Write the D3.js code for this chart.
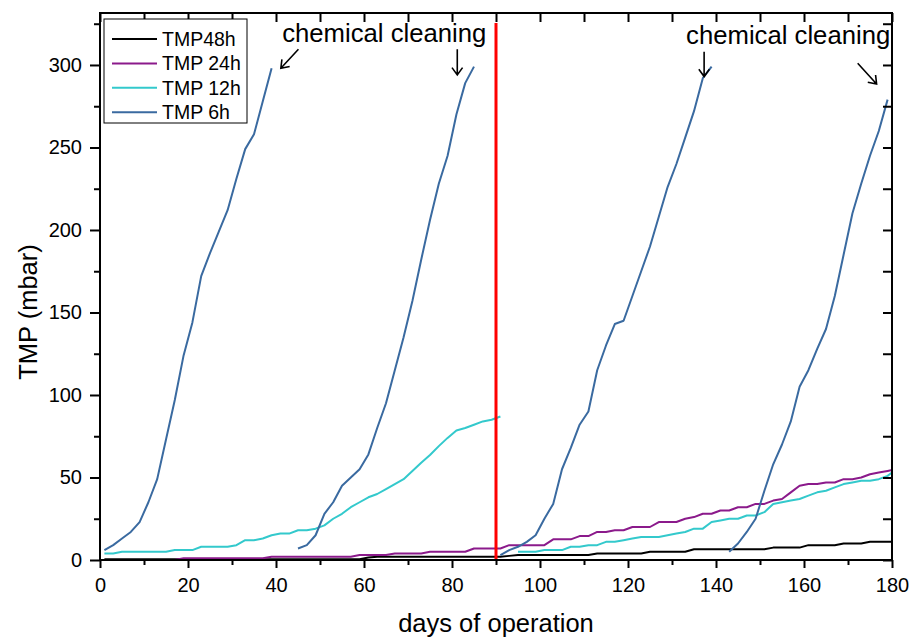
<!DOCTYPE html>
<html>
<head>
<meta charset="utf-8">
<script src="https://cdn.jsdelivr.net/npm/d3@7"></script>
<style>
  body { margin: 0; background: #fff; }
  svg { display: block; }
  text { font-family: "Liberation Sans", Arial, sans-serif; fill: #000; }
</style>
</head>
<body>
<svg id="chart" width="911" height="639"></svg>
<script>
// ---- data: transmembrane pressure (mbar) vs. days of operation ----
const seriesNames = ["TMP48h", "TMP 24h", "TMP 12h", "TMP 6h"];
const seriesColors = ["#000000", "#8b1a8b", "#33c9cc", "#3a6aa0"];

const daysLong = [1,3,5,7,9,11,13,15,17,19,21,23,25,27,29,31,33,35,37,39,41,43,45,47,49,51,53,55,57,59,
  61,63,65,67,69,71,73,75,77,79,81,83,85,87,89,91,93,95,97,99,101,103,105,107,109,111,113,115,117,119,
  121,123,125,127,129,131,133,135,137,139,141,143,145,147,149,151,153,155,157,159,161,163,165,167,169,171,
  173,175,177,179,180];

const tmp48h = [0.5,0.5,0.5,0.5,0.5,0.5,0.5,0.5,0.5,0.5,0.5,0.5,0.5,0.5,0.5,0.5,0.5,0.5,0.5,0.5,
  0.5,0.5,0.5,0.5,0.5,0.5,0.5,0.5,0.5,0.5,1.5,2,2,2,2,2,2,2,2,2,2,2,2,2,2,2,2.5,3,3,3,3,3,3,3,3,3,
  4,4,4,4,4,4,5,5,5,5,5,6.5,6.5,6.5,6.5,6.5,6.5,6.5,6.5,6.5,7.5,7.5,7.5,7.5,9,9,9,9,10,10,10,11,11,11,11];

const tmp24h = [0,0,0,0,0,0,0,0,0,1,1,1,1,1,1,1,1,1,1,2,2,2,2,2,2,2,2,2,2,3,3,3,3,4,4,4,4,5,5,5,5,5,
  7,7,7,7,9,9,9,9,9,12.5,12.5,12.5,14.5,14.5,17,17,18,18,20,20,20,23,23,23,25,26,28,28,30,30,32,32,34,34,
  36,37,41,45,46,46,47,47,49,49,50,52,53,54,54.5];

const days12hA = [1,3,5,7,9,11,13,15,17,19,21,23,25,27,29,31,33,35,37,39,41,43,45,47,49,51,53,55,57,59,
  61,63,65,67,69,71,73,75,77,79,81,83,85,87,89,91];
const tmp12hA = [4,4,5,5,5,5,5,5,6,6,6,8,8,8,8,9,12,12,13,15,16,16,18,18,19,21,25,28,32,35,
  38,40,43,46,49,54,59,63.6,69,74,78.5,80,82,84,85,87];
const days12hB = [95,97,99,101,103,105,107,109,111,113,115,117,119,121,123,125,127,129,131,133,135,137,
  139,141,143,145,147,149,151,153,155,157,159,161,163,165,167,169,171,173,175,177,179,180];
const tmp12hB = [5,5,5,6,6,6,8,8,9,9,11,11,12,13,14,14,14,15,16,17,19,19,23,24,25,25,27,27,29,34,35,36,
  37,39,41,42,44,46,47,48,48,49,51,53];

// TMP 6h: four filtration cycles, each ended by a chemical cleaning
const days6hA = [1,3,5,7,9,11,13,15,17,19,21,23,25,27,29,31,33,35,37,39];
const tmp6hA = [6,9,13,17,23,35,49,73,97,124,144,172,186,199,212,231,249,258,278,298];
const days6hB = [45,47,49,51,53,55,57,59,61,63,65,67,69,71,73,75,77,79,81,83,85];
const tmp6hB = [7,9,15,28,35,45,50,55,64,80,95,115,135,157,182,206,228,245,270,289,299];
const days6hC = [91,93,95,97,99,101,103,105,107,109,111,113,115,117,119,121,123,125,127,129,131,133,135,137,139];
const tmp6hC = [3,6,8,11,15,25,34,55,68,82,90,115,130,143,145,160,175,190,208,226,240,256,272,292,299];
const days6hD = [143,145,147,149,151,153,155,157,159,161,163,165,167,169,171,173,175,177,179];
const tmp6hD = [5,10,17,25,42,58,70,84,105,115,128,140,160,185,210,228,245,260,279];

// axis ticks
const xMajorTicks = [0,20,40,60,80,100,120,140,160,180];
const xMinorTicks = [10,30,50,70,90,110,130,150,170];
const yMajorTicks = [0,50,100,150,200,250,300];
const yMinorTicks = [25,75,125,175,225,275,325];

// annotations: chemical cleaning events (data coordinates)
const cleaningDay = 90;
const labelText = "chemical cleaning";
const labels = [{day: 41.4, val: 314}, {day: 133.2, val: 312.7}];
const arrows = [
  {from: [45.1, 309.5], to: [41.1, 298]},
  {from: [81.2, 309.5], to: [81.2, 294]},
  {from: [137.3, 308], to: [137.3, 293]},
  {from: [172.2, 301], to: [176.5, 288.5]}
];

// ---- layout ----
const svg = d3.select("#chart");
const W = 911, H = 639;
const m = {left: 100, right: 19, top: 13, bottom: 79};
const x = d3.scaleLinear().domain([0, 180]).range([m.left, W - m.right]);
const y = d3.scaleLinear().domain([0, 331.5]).range([H - m.bottom, m.top]);

const line = d3.line().x(d => x(d[0])).y(d => y(d[1]));
const zip = (a, b) => a.map((v, i) => [v, b[i]]);

const plot = svg.append("g");

function drawSeries(days, vals, color) {
  plot.append("path")
    .datum(zip(days, vals))
    .attr("d", line)
    .attr("fill", "none")
    .attr("stroke", color)
    .attr("stroke-width", 2)
    .attr("stroke-linejoin", "round");
}

drawSeries(daysLong, tmp48h, seriesColors[0]);
drawSeries(daysLong, tmp24h, seriesColors[1]);
drawSeries(days12hA, tmp12hA, seriesColors[2]);
drawSeries(days12hB, tmp12hB, seriesColors[2]);
drawSeries(days6hA, tmp6hA, seriesColors[3]);
drawSeries(days6hB, tmp6hB, seriesColors[3]);
drawSeries(days6hC, tmp6hC, seriesColors[3]);
drawSeries(days6hD, tmp6hD, seriesColors[3]);

// cleaning marker line
plot.append("line")
  .attr("x1", x(cleaningDay)).attr("x2", x(cleaningDay))
  .attr("y1", y(325.5)).attr("y2", y(0))
  .attr("stroke", "#ff0000").attr("stroke-width", 3);

// ---- axes ----
function styleAxis(g) {
  g.select(".domain").remove();
  g.selectAll(".tick line").attr("stroke", "#000").attr("stroke-width", 2);
  g.selectAll(".tick text").attr("font-size", 20).attr("fill", "#000")
    .attr("font-family", "'Liberation Sans', Arial, sans-serif");
}

const bottom = H - m.bottom;
svg.append("g").attr("transform", `translate(0,${bottom})`)
  .call(d3.axisBottom(x).tickValues(xMajorTicks).tickSize(8).tickPadding(10).tickFormat(d3.format("d")))
  .call(styleAxis);
svg.append("g").attr("transform", `translate(0,${bottom})`)
  .call(d3.axisBottom(x).tickValues(xMinorTicks).tickSize(5).tickFormat(""))
  .call(styleAxis);
svg.append("g").attr("transform", `translate(${m.left},0)`)
  .call(d3.axisLeft(y).tickValues(yMajorTicks).tickSize(10).tickPadding(8).tickFormat(d3.format("d")))
  .call(styleAxis);
svg.append("g").attr("transform", `translate(${m.left},0)`)
  .call(d3.axisLeft(y).tickValues(yMinorTicks).tickSize(6).tickFormat(""))
  .call(styleAxis);
// mirrored inward ticks on top and right
svg.append("g").attr("transform", `translate(0,${m.top})`)
  .call(d3.axisTop(x).tickValues(xMajorTicks.concat(xMinorTicks)).tickSize(-9).tickFormat(""))
  .call(styleAxis);
svg.append("g").attr("transform", `translate(${W - m.right},0)`)
  .call(d3.axisRight(y).tickValues(yMajorTicks.concat(yMinorTicks)).tickSize(-9).tickFormat(""))
  .call(styleAxis);

// frame
svg.append("rect")
  .attr("x", m.left).attr("y", m.top)
  .attr("width", W - m.right - m.left).attr("height", bottom - m.top)
  .attr("fill", "none").attr("stroke", "#000").attr("stroke-width", 2);

// axis titles
svg.append("text")
  .attr("x", (m.left + W - m.right) / 2).attr("y", 632)
  .attr("text-anchor", "middle").attr("font-size", 25.5)
  .text("days of operation");
svg.append("text")
  .attr("transform", `translate(37,312) rotate(-90)`)
  .attr("text-anchor", "middle").attr("font-size", 25.5)
  .text("TMP (mbar)");

// ---- annotations ----
labels.forEach(l => {
  svg.append("text")
    .attr("x", x(l.day)).attr("y", y(l.val))
    .attr("font-size", 25.7)
    .text(labelText);
});
arrows.forEach(a => {
  const x1 = x(a.from[0]), y1 = y(a.from[1]);
  const x2 = x(a.to[0]), y2 = y(a.to[1]);
  const ang = Math.atan2(y2 - y1, x2 - x1);
  const head = 9, spread = Math.PI / 5;
  const p1 = [x2 - head * Math.cos(ang - spread), y2 - head * Math.sin(ang - spread)];
  const p2 = [x2 - head * Math.cos(ang + spread), y2 - head * Math.sin(ang + spread)];
  svg.append("path")
    .attr("d", `M${x1},${y1}L${x2},${y2}M${p1[0]},${p1[1]}L${x2},${y2}L${p2[0]},${p2[1]}`)
    .attr("fill", "none").attr("stroke", "#000").attr("stroke-width", 1.6);
});

// ---- legend ----
const legend = svg.append("g");
legend.append("rect")
  .attr("x", 104).attr("y", 19).attr("width", 143).attr("height", 104)
  .attr("fill", "#fff").attr("stroke", "#000").attr("stroke-width", 1);
seriesNames.forEach((name, i) => {
  const cy = 39 + i * 24.4;
  legend.append("line")
    .attr("x1", 112).attr("x2", 157).attr("y1", cy).attr("y2", cy)
    .attr("stroke", seriesColors[i]).attr("stroke-width", 2);
  legend.append("text")
    .attr("x", 162).attr("y", cy).attr("dy", "0.35em")
    .attr("font-size", 19.5)
    .text(name);
});
</script>
</body>
</html>
